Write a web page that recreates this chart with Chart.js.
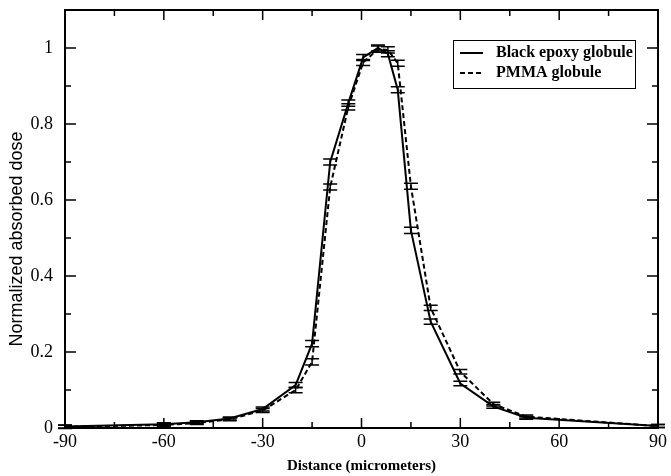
<!DOCTYPE html>
<html><head><meta charset="utf-8">
<script src="https://cdn.jsdelivr.net/npm/chart.js@4.4.1/dist/chart.umd.min.js"></script>
<style>html,body{margin:0;padding:0;background:#fff;}#wrap{width:671px;height:476px;}</style>
</head><body><div id="wrap"><canvas id="c" width="671" height="476"></canvas></div>
<script>
// ---- data ----
const xPositions = [-90, -60, -50, -40, -30, -20, -15, -9.5, -4, 0.5, 5, 8, 11, 15, 21, 30, 40, 50, 90];
const epoxyDose  = [0.004, 0.010, 0.015, 0.025, 0.050, 0.113, 0.222, 0.700, 0.855, 0.975, 1.000, 0.985, 0.890, 0.520, 0.280, 0.117, 0.057, 0.027, 0.005];
const pmmaDose   = [0.003, 0.008, 0.013, 0.023, 0.046, 0.100, 0.174, 0.634, 0.845, 0.962, 0.997, 0.995, 0.960, 0.636, 0.316, 0.148, 0.063, 0.030, 0.005];
const epoxyErr   = [0.004, 0.004, 0.004, 0.004, 0.005, 0.007, 0.008, 0.008, 0.008, 0.008, 0.008, 0.008, 0.008, 0.008, 0.007, 0.006, 0.005, 0.004, 0.004];
const pmmaErr    = [0.004, 0.004, 0.004, 0.004, 0.005, 0.007, 0.008, 0.008, 0.008, 0.008, 0.008, 0.008, 0.008, 0.008, 0.007, 0.006, 0.005, 0.004, 0.004];
const seriesLabels = ['Black epoxy globule', 'PMMA globule'];
const xTickValues = [-90, -60, -30, 0, 30, 60, 90];
const yTickValues = [0, 0.2, 0.4, 0.6, 0.8, 1];
const xTitle = 'Distance (micrometers)';
const yTitle = 'Normalized absorbed dose';

const toPoints = (xs, ys) => xs.map((x, i) => ({x: x, y: ys[i]}));
const errs = [epoxyErr, pmmaErr];
const isYMajor = v => yTickValues.some(t => Math.abs(t - v) < 1e-6);

const decor = {
  id: 'decor',
  afterDatasetsDraw(chart) {
    const ctx = chart.ctx, xs = chart.scales.x, ys = chart.scales.y;
    ctx.save();
    ctx.strokeStyle = '#000';
    ctx.lineWidth = 1.5;
    chart.data.datasets.forEach((ds, i) => {
      ds.data.forEach((p, j) => {
        const e = errs[i][j];
        const px = xs.getPixelForValue(p.x);
        const p1 = ys.getPixelForValue(p.y + e), p2 = ys.getPixelForValue(p.y - e);
        ctx.beginPath();
        ctx.moveTo(px, p1); ctx.lineTo(px, p2);
        ctx.moveTo(px - 7, p1); ctx.lineTo(px + 7, p1);
        ctx.moveTo(px - 7, p2); ctx.lineTo(px + 7, p2);
        ctx.stroke();
      });
    });
    ctx.restore();
  },
  afterDraw(chart) {
    const ctx = chart.ctx, ca = chart.chartArea, xs = chart.scales.x, ys = chart.scales.y;
    ctx.save();
    ctx.strokeStyle = '#000';
    ctx.lineWidth = 1.5;
    ctx.beginPath();
    xs.ticks.forEach(t => {
      const px = xs.getPixelForValue(t.value);
      const L = xTickValues.includes(t.value) ? 10 : 6;
      ctx.moveTo(px, ca.bottom); ctx.lineTo(px, ca.bottom - L);
      ctx.moveTo(px, ca.top); ctx.lineTo(px, ca.top + L);
    });
    ys.ticks.forEach(t => {
      const py = ys.getPixelForValue(t.value);
      const L = isYMajor(t.value) ? 11 : 6;
      ctx.moveTo(ca.left, py); ctx.lineTo(ca.left + L, py);
      ctx.moveTo(ca.right, py); ctx.lineTo(ca.right - L, py);
    });
    ctx.stroke();
    ctx.lineWidth = 2;
    ctx.strokeRect(ca.left, ca.top, ca.right - ca.left, ca.bottom - ca.top);
    // y-axis title
    ctx.fillStyle = '#000';
    ctx.save();
    ctx.translate(17, 239);
    ctx.rotate(-Math.PI / 2);
    ctx.font = '18px "Liberation Sans"';
    ctx.textAlign = 'center';
    ctx.textBaseline = 'middle';
    ctx.fillText(yTitle, 0, 0);
    ctx.restore();
    // legend
    const lx = ca.right - 205, ly = ca.top + 30, lw = 182, lh = 48;
    ctx.lineWidth = 1;
    ctx.strokeRect(lx + 0.5, ly + 0.5, lw, lh);
    ctx.font = 'bold 16px "Liberation Serif"';
    ctx.textBaseline = 'middle';
    chart.data.datasets.forEach((ds, i) => {
      const yy = ly + 13 + i * 20;
      ctx.lineWidth = 2;
      ctx.setLineDash(ds.borderDash || []);
      ctx.beginPath(); ctx.moveTo(lx + 7, yy); ctx.lineTo(lx + 30, yy); ctx.stroke();
      ctx.setLineDash([]);
      ctx.fillText(ds.label, lx + 43, yy);
    });
    ctx.restore();
  }
};

new Chart(document.getElementById('c'), {
  type: 'scatter',
  data: {
    datasets: [
      {label: seriesLabels[0], data: toPoints(xPositions, epoxyDose), showLine: true, borderColor: '#000', borderWidth: 2, pointRadius: 0, tension: 0},
      {label: seriesLabels[1], data: toPoints(xPositions, pmmaDose), showLine: true, borderColor: '#000', borderWidth: 2, borderDash: [5, 3], pointRadius: 0, tension: 0}
    ]
  },
  options: {
    responsive: false,
    animation: false,
    devicePixelRatio: 1,
    layout: {padding: {top: 10, right: 13, left: 0, bottom: 0}},
    plugins: {legend: {display: false}, tooltip: {enabled: false}},
    scales: {
      x: {
        type: 'linear', min: -90, max: 90,
        grid: {display: false, drawTicks: false}, border: {display: false},
        ticks: {stepSize: 15, autoSkip: false, maxRotation: 0, color: '#000', padding: 3,
          font: {family: 'Liberation Serif', size: 18},
          callback: v => xTickValues.includes(v) ? String(v) : ''},
        title: {display: true, text: xTitle, color: '#000', padding: {top: 0, bottom: 1},
          font: {family: 'Liberation Serif', size: 15, weight: 'bold'}},
        afterFit: s => { s.height = 48; s.paddingLeft = 0; s.paddingRight = 0; }
      },
      y: {
        min: 0, max: 1.1,
        grid: {display: false, drawTicks: false}, border: {display: false},
        ticks: {stepSize: 0.1, autoSkip: false, color: '#000', padding: 12,
          font: {family: 'Liberation Serif', size: 18},
          callback: v => isYMajor(v) ? String(Math.round(v * 10) / 10) : ''},
        title: {display: false, text: yTitle},
        afterFit: s => { s.width = 65; s.paddingTop = 0; s.paddingBottom = 0; }
      }
    }
  },
  plugins: [decor]
});
</script>
</body></html>
